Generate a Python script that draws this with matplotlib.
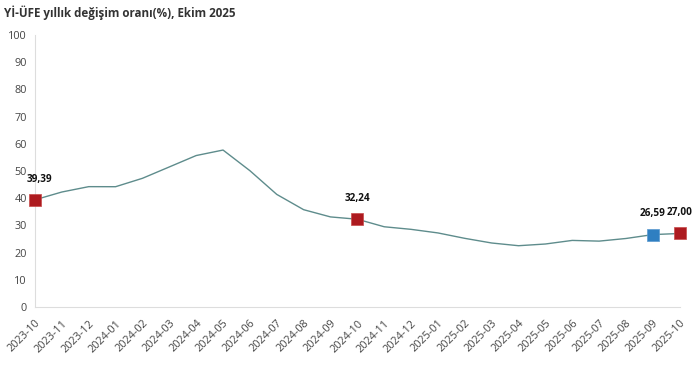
import matplotlib.pyplot as plt

plt.rcParams['font.family'] = ['Open Sans', 'DejaVu Sans']

months = ['2023-10', '2023-11', '2023-12', '2024-01', '2024-02', '2024-03', '2024-04',
          '2024-05', '2024-06', '2024-07', '2024-08', '2024-09', '2024-10', '2024-11',
          '2024-12', '2025-01', '2025-02', '2025-03', '2025-04', '2025-05', '2025-06',
          '2025-07', '2025-08', '2025-09', '2025-10']
values = [39.39, 42.25, 44.22, 44.20, 47.29, 51.47, 55.66, 57.68, 50.09, 41.37, 35.75,
          33.09, 32.24, 29.47, 28.52, 27.20, 25.21, 23.50, 22.50, 23.13, 24.45, 24.19,
          25.16, 26.59, 27.00]
red_idx = [0, 12, 24]
blue_idx = [23]

fig = plt.figure(figsize=(7, 3.72), dpi=100)
ax = fig.add_axes([0.05, 0.175, 0.921, 0.731])
x = list(range(len(months)))
ax.plot(x, values, color='#5e8c8c', lw=1.0, zorder=2)
ax.scatter([x[i] for i in red_idx], [values[i] for i in red_idx], marker='s', s=80,
           color='#ad1a1f', edgecolors='#c84a4a', linewidths=0.5, zorder=3, clip_on=False)
ax.scatter([x[i] for i in blue_idx], [values[i] for i in blue_idx], marker='s', s=80,
           color='#2f7fc1', edgecolors='#5a9ad0', linewidths=0.5, zorder=3, clip_on=False)

# etiketler
for i in red_idx + blue_idx:
    lab = f'{values[i]:.2f}'.replace('.', ',')
    dx = 3 if i == 0 else 0
    ax.annotate(lab, (x[i], values[i]), xytext=(dx, 11), textcoords='offset points',
                ha='center', va='bottom', fontsize=7.2, fontweight='bold', color='#111111',
                annotation_clip=False)

ax.set_xlim(0, 24)
ax.set_ylim(0, 100)
ax.set_yticks(range(0, 101, 10))
ax.set_xticks(x)
ax.set_xticklabels(months, rotation=45, ha='right', rotation_mode='anchor')
ax.tick_params(axis='both', length=0, labelsize=7.8, colors='#444444', pad=6)
ax.tick_params(axis='x', pad=8)
for s in ['top', 'right']:
    ax.spines[s].set_visible(False)
for s in ['left', 'bottom']:
    ax.spines[s].set_color('#dddddd')
    ax.spines[s].set_linewidth(0.8)

fig.text(0.006, 0.967, 'Yİ-ÜFE yıllık değişim oranı(%), Ekim 2025', fontsize=8.4,
         fontweight='bold', color='#333333', ha='left', va='center')

fig.savefig('out.png', dpi=100)
